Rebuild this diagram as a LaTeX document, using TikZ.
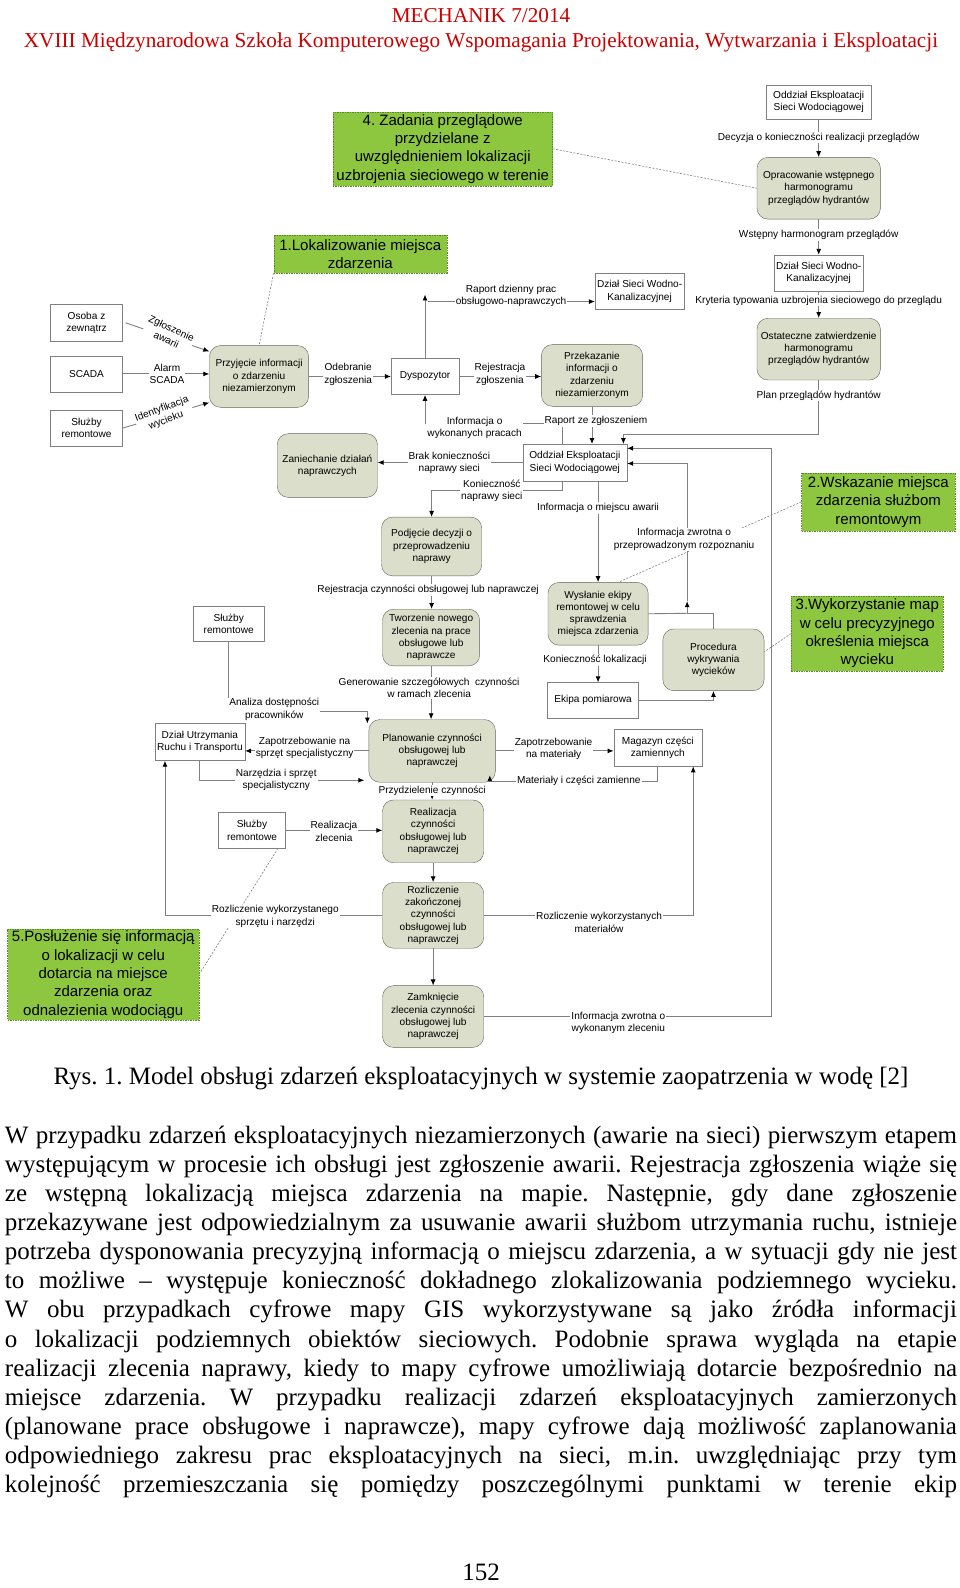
\documentclass[tikz,border=0pt]{standalone}
\usepackage{fontspec}
\setmainfont{Liberation Serif}
\newfontfamily\arialf{Liberation Sans}
\usetikzlibrary{arrows.meta}

\definecolor{procfill}{RGB}{219,222,202}
\definecolor{procedge}{RGB}{100,100,90}
\definecolor{linegray}{RGB}{128,128,128}
\definecolor{notegreen}{RGB}{141,198,63}
\definecolor{notedge}{RGB}{90,135,45}
\definecolor{headred}{RGB}{204,0,0}

\newcommand\lblfont{\arialf\fontsize{10.1}{12.2}\selectfont}
\newcommand\notefnt{\arialf\fontsize{15}{18.3}\selectfont}

\tikzset{
  sz/.style 2 args={minimum width=1.012*#1pt, minimum height=1.012*#2pt},
  ent/.style={draw=linegray, fill=white, font=\lblfont, align=center, inner sep=0pt},
  proc/.style={draw=procedge, fill=procfill, rounded corners=11pt, font=\lblfont, align=center, inner sep=0pt},
  note/.style={draw=notedge, dash pattern=on 1.5pt off 1pt, fill=notegreen, font=\notefnt, align=center, inner sep=0pt},
  lbl/.style={fill=white, font=\lblfont, align=center, inner sep=1pt},
  link/.style={draw=linegray, line width=0.9pt},
  flow/.style={link, -{Latex[color=black,length=6pt,width=5pt]}},
  hint/.style={draw=linegray, dash pattern=on 2pt off 1.5pt, line width=0.6pt},
  headline/.style={text=headred, font=\fontsize{21.2}{25}\selectfont, inner sep=0pt},
  bodyline/.style={font=\fontsize{25}{29}\selectfont, inner sep=0pt}
}

\begin{document}
\frenchspacing
\begin{tikzpicture}[x=1pt,y=-1pt]
\path[use as bounding box, fill=white] (0,0) rectangle (960,1588);

% page head
\node[headline] (title) at (481,15.5) {MECHANIK 7/2014};
\node[headline] (subtitle) at (481,42) {XVIII Międzynarodowa Szkoła Komputerowego Wspomagania Projektowania, Wytwarzania i Eksploatacji};

\begin{scope}[x=1.012pt,y=-1.012pt]
% external entities
\node[ent,sz={104}{34}] (oewA) at (809,101) {Oddział Eksploatacji\\Sieci Wodociągowej};
\node[ent,sz={88}{36}] (dswkB) at (809,270) {Dział Sieci Wodno-\\Kanalizacyjnej};
\node[ent,sz={71}{36}] (osoba) at (85.5,319) {Osoba z\\zewnątrz};
\node[ent,sz={71}{36}] (scada) at (85.5,369.5) {SCADA};
\node[ent,sz={71}{35}] (sluzbyA) at (85.5,423) {Służby\\remontowe};
\node[ent,sz={67}{36}] (dysp) at (420,372) {Dyspozytor};
\node[ent,sz={88}{36}] (dswkA) at (632,288) {Dział Sieci Wodno-\\Kanalizacyjnej};
\node[ent,sz={103}{36}] (oewB) at (568,457) {Oddział Eksploatacji\\Sieci Wodociągowej};
\node[ent,sz={90}{35}] (ekipa) at (586,692) {Ekipa pomiarowa};
\node[ent,sz={70}{35}] (sluzbyB) at (226,616.5) {Służby\\remontowe};
\node[ent,sz={89}{37}] (dzut) at (197.5,733) {Dział Utrzymania\\Ruchu i Transportu};
\node[ent,sz={87}{36}] (magazyn) at (650,739) {Magazyn części\\zamiennych};
\node[ent,sz={66}{35}] (sluzbyC) at (249,820.5) {Służby\\remontowe};

% processes
\node[proc,sz={122}{61}] (oprac) at (809,186) {Opracowanie wstępnego\\harmonogramu\\przeglądów hydrantów};
\node[proc,sz={122}{61}] (ostat) at (809,345) {Ostateczne zatwierdzenie\\harmonogramu\\przeglądów hydrantów};
\node[proc,sz={98}{61}] (przyj) at (256,372) {Przyjęcie informacji\\o zdarzeniu\\niezamierzonym};
\node[proc,sz={100}{61}] (przek) at (585,371) {Przekazanie\\informacji o\\zdarzeniu\\niezamierzonym};
\node[proc,sz={99}{63}] (zanie) at (323.5,460) {Zaniechanie działań\\naprawczych};
\node[proc,sz={99}{58}] (podj) at (426.5,540) {Podjęcie decyzji o\\przeprowadzeniu\\naprawy};
\node[proc,sz={99}{62}] (wysl) at (591,606.5) {Wysłanie ekipy\\remontowej w celu\\sprawdzenia\\miejsca zdarzenia};
\node[proc,sz={100}{61}] (proced) at (705,652) {Procedura\\wykrywania\\wycieków};
\node[proc,sz={96}{56}] (tworz) at (426,630) {Tworzenie nowego\\zlecenia na prace\\obsługowe lub\\naprawcze};
\node[proc,sz={125}{62}] (plan) at (427,742) {Planowanie czynności\\obsługowej lub\\naprawczej};
\node[proc,sz={100}{62}] (real) at (428,821.5) {Realizacja\\czynności\\obsługowej lub\\naprawczej};
\node[proc,sz={100}{65}] (rozl) at (428,904.5) {Rozliczenie\\zakończonej\\czynności\\obsługowej lub\\naprawczej};
\node[proc,sz={100}{61}] (zamk) at (428,1004.5) {Zamknięcie\\zlecenia czynności\\obsługowej lub\\naprawczej};

% notes
\node[note,sz={217}{73}] (gfour) at (437.5,147) {4. Zadania przeglądowe\\przydzielane z\\uwzględnieniem lokalizacji\\uzbrojenia sieciowego w terenie};
\node[note,sz={171}{38}] (gone) at (356,251) {1.Lokalizowanie miejsca\\zdarzenia};
\node[note,sz={152}{57}] (gtwo) at (868,496) {2.Wskazanie miejsca\\zdarzenia służbom\\remontowym};
\node[note,sz={150}{74}] (gthree) at (857,626) {3.Wykorzystanie map\\w celu precyzyjnego\\określenia miejsca\\wycieku};
\node[note,sz={189}{90}] (gfive) at (102,963) {5.Posłużenie się informacją\\o lokalizacji w celu\\dotarcia na miejsce\\zdarzenia oraz\\odnalezienia wodociągu};

% corner points
\coordinate (planC) at (616,429);
\coordinate (k1) at (556,485);
\coordinate (k2) at (556,418);
\coordinate (k3) at (420,291);
\coordinate (k4) at (423,298);
\coordinate (k5) at (363,703);
\coordinate (k6) at (360,771);
\coordinate (k8) at (484,772);
\coordinate (k10) at (679,606);
\coordinate (k11) at (679,594);
\coordinate (fb) at (762,443);

% flows
\draw[flow] (oewA) -- (oprac);
\draw[flow] (oprac) -- (dswkB);
\draw[flow] (dswkB) -- (ostat);
\draw[flow] (ostat.south) |- (planC) -- (planC |- oewB.north);
\draw[flow] ([xshift=3pt]osoba.east) -- ([yshift=-6pt]przyj.north west);
\draw[flow] (scada.east) -- (scada.east -| przyj.west);
\draw[flow] (sluzbyA.east) -- ([yshift=5pt]przyj.south west);
\draw[flow] (przyj.east) -- (przyj.east -| dysp.west);
\draw[flow] (dysp.east) -- (dysp.east -| przek.west);
\draw[flow] (dysp.north) -- (k3);
\draw[flow] (k4) -- (k4 -| dswkA.west);
\draw[flow] (przek.south) -- (przek.south |- oewB.north);
\draw[flow] (oewB.north -| k2) -- (k2) -| (dysp.south);
\draw[flow] (oewB.west) -- (oewB.west -| zanie.east);
\draw[flow] (oewB.south -| k1) -- (k1) -| (podj.north);
\draw[flow] (wysl.north |- oewB.south) -- (wysl.north);
\draw[flow] (wysl.south) -- (wysl.south |- ekipa.north);
\draw[flow] (ekipa.east) -| (proced.south);
\draw[link] (wysl.east) -- (k10);
\draw[link] (proced.north) |- (k10);
\draw[flow] (k10) -- (k11);
\draw[flow] (k11) |- (oewB.east |- 0,458);
\draw[flow] (zamk.east) -| (fb) -- (oewB.east |- fb);
\draw[flow] (podj.south) -- (podj.south |- tworz.north);
\draw[flow] (tworz.south) -- (tworz.south |- plan.north);
\draw[flow] (sluzbyB.south) |- (k5) -- ++(0,12);
\draw[flow] (plan.west) -- (plan.west -| dzut.east);
\draw[flow] (dzut.south) |- (k6);
\draw[flow] (plan.east) -- (plan.east -| magazyn.west);
\draw[flow] (magazyn.south) |- (k8) -- ++(0,-6);
\draw[flow] (plan.south) -- (plan.south |- real.north);
\draw[flow] (sluzbyC.east) -- (sluzbyC.east -| real.west);
\draw[flow] (real) -- (rozl);
\draw[flow] (rozl) -- (zamk);
\draw[flow] (rozl.west) -| (dzut.south -| 163,0);
\draw[flow] (rozl.east) -| (685,0 |- magazyn.south);

% dashed hints
\draw[hint] (gfour.east) -- (oprac.west);
\draw[hint] (gone.south west) -- (przyj.north);
\draw[hint] (gtwo.west) -- ([xshift=-30pt]wysl.north east);
\draw[hint] (gthree.west) -- ([yshift=8pt]proced.east);
\draw[hint] (gfive.east) -- ([xshift=26pt]sluzbyC.south);

% flow labels
\node[lbl] (lDec) at (809,136) {Decyzja o konieczności realizacji przeglądów};
\node[lbl] (lWst) at (809,232) {Wstępny harmonogram przeglądów};
\node[lbl] (lKry) at (809,297) {Kryteria typowania uzbrojenia sieciowego do przeglądu};
\node[lbl] (lPlan) at (809,391) {Plan przeglądów hydrantów};
\node[lbl,rotate=-25] (lZgl) at (167,330) {Zgłoszenie\\awarii};
\node[lbl] (lAlarm) at (165,369.5) {Alarm\\SCADA};
\node[lbl,rotate=20] (lIdent) at (162,410) {Identyfikacja\\wycieku};
\node[lbl] (lOdeb) at (344,370) {Odebranie\\zgłoszenia};
\node[lbl] (lRej) at (494,370) {Rejestracja\\zgłoszenia};
\node[lbl] (lRap) at (505,292) {Raport dzienny prac\\obsługowo-naprawczych};
\node[lbl] (lRze) at (589,416) {Raport ze zgłoszeniem};
\node[lbl] (lInfW) at (469,423) {Informacja o\\wykonanych pracach};
\node[lbl] (lBrak) at (444,457) {Brak konieczności\\naprawy sieci};
\node[lbl] (lKon) at (486,485) {Konieczność\\naprawy sieci};
\node[lbl] (lMiej) at (591,502) {Informacja o miejscu awarii};
\node[lbl] (lRozp) at (676,533) {Informacja zwrotna o\\przeprowadzonym rozpoznaniu};
\node[lbl] (lLok) at (588,652) {Konieczność lokalizacji};
\node[lbl] (lRejC) at (423,583) {Rejestracja czynności obsługowej lub naprawczej};
\node[lbl] (lGen) at (424,680) {Generowanie szczegółowych~ czynności\\w ramach zlecenia};
\node[lbl] (lAna) at (271,701) {Analiza dostępności\\pracowników};
\node[lbl] (lZapS) at (301,739) {Zapotrzebowanie na\\sprzęt specjalistyczny};
\node[lbl] (lNarz) at (273,771) {Narzędzia i sprzęt\\specjalistyczny};
\node[lbl] (lZapM) at (547,740) {Zapotrzebowanie\\na materiały};
\node[lbl] (lMat) at (572,772) {Materiały i części zamienne};
\node[lbl] (lPrz) at (427,781) {Przydzielenie czynności};
\node[lbl] (lReal) at (330,821.5) {Realizacja\\zlecenia};
\node[lbl] (lRozS) at (272,905.5) {Rozliczenie wykorzystanego\\sprzętu i narzędzi};
\node[lbl] (lRozM) at (592,911.5) {Rozliczenie wykorzystanych\\materiałów};
\node[lbl] (lZwr) at (611,1010.5) {Informacja zwrotna o\\wykonanym zleceniu};
\end{scope}

% caption and text
\node[bodyline] (caption) at (481,1079) {\strut Rys. 1. Model obsługi zdarzeń eksploatacyjnych w systemie zaopatrzenia w wodę [2]};
\foreach \bline [count=\i] in {
  {W przypadku zdarzeń eksploatacyjnych niezamierzonych (awarie na sieci) pierwszym etapem},
  {występującym w procesie ich obsługi jest zgłoszenie awarii. Rejestracja zgłoszenia wiąże się},
  {ze wstępną lokalizacją miejsca zdarzenia na mapie. Następnie, gdy dane zgłoszenie},
  {przekazywane jest odpowiedzialnym za usuwanie awarii służbom utrzymania ruchu, istnieje},
  {potrzeba dysponowania precyzyjną informacją o miejscu zdarzenia, a w sytuacji gdy nie jest},
  {to możliwe – występuje konieczność dokładnego zlokalizowania podziemnego wycieku.},
  {W obu przypadkach cyfrowe mapy GIS wykorzystywane są jako źródła informacji},
  {o lokalizacji podziemnych obiektów sieciowych. Podobnie sprawa wygląda na etapie},
  {realizacji zlecenia naprawy, kiedy to mapy cyfrowe umożliwiają dotarcie bezpośrednio na},
  {miejsce zdarzenia. W przypadku realizacji zdarzeń eksploatacyjnych zamierzonych},
  {(planowane prace obsługowe i naprawcze), mapy cyfrowe dają możliwość zaplanowania},
  {odpowiedniego zakresu prac eksploatacyjnych na sieci, m.in. uwzględniając przy tym},
  {kolejność przemieszczania się pomiędzy poszczególnymi punktami w terenie ekip}}
  \node[bodyline] (body\i) at (481,{1108.97+29.03*\i}) {\strut\makebox[952pt][s]{\bline}};
\node[bodyline] (pagenum) at (481,1575) {\strut 152};
\end{tikzpicture}
\end{document}
